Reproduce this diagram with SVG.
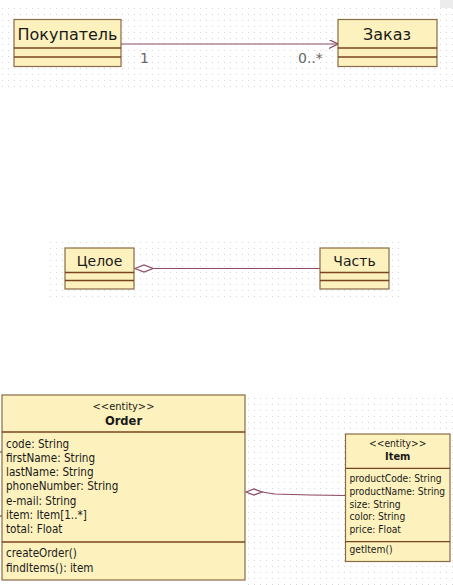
<svg xmlns="http://www.w3.org/2000/svg" width="453" height="585" viewBox="0 0 453 585">
<style>
.box{fill:#fdf2bd;stroke:#8a6a45;stroke-width:1.2}
.div{stroke:#7a4420;stroke-width:1.3}
.t{font-family:"DejaVu Sans Condensed","DejaVu Sans",sans-serif;fill:#1a1a1a}
.big{font-family:"DejaVu Sans",sans-serif;font-size:16px}
.mid{font-family:"DejaVu Sans",sans-serif;font-size:14px}
.mult{font-family:"DejaVu Sans",sans-serif;font-size:14px;fill:#666}
.a1{font-size:11.6px}
.a2{font-size:10.2px}
.conn{fill:none;stroke:#8e4a62;stroke-width:1.2}
</style>
<defs>
<pattern id="dots" x="0" y="0" width="6" height="6" patternUnits="userSpaceOnUse">
<rect x="2" y="2" width="1" height="1" fill="#d6d6d6"/>
</pattern>
<marker id="open" viewBox="0 0 10 10" refX="10" refY="5" markerWidth="9" markerHeight="9" markerUnits="userSpaceOnUse" orient="auto">
<path d="M0,0 L10,5 L0,10" fill="none" stroke="#8e4a62" stroke-width="1.3"/>
</marker>
</defs>
<rect width="453" height="585" fill="#ffffff"/>
<rect x="440" y="0" width="13" height="8" fill="#ececec"/>
<rect x="0" y="4" width="453" height="88" fill="url(#dots)"/>
<rect x="48" y="238" width="355" height="64" fill="url(#dots)"/>
<rect x="246" y="395" width="207" height="190" fill="url(#dots)"/>

<g id="connectors">
<line class="conn" x1="121" y1="44" x2="338" y2="44" marker-end="url(#open)"/>
<text class="mult" x="140" y="63">1</text>
<text class="mult" x="298" y="63">0..*</text>
<path class="conn" d="M135,268.5 L144,265 L153,268.5 L144,272 Z" style="fill:#fff"/>
<line class="conn" x1="153" y1="268.5" x2="320" y2="268.5"/>
<path class="conn" d="M246,492 L254,489 L262,492 L254,495 Z" style="fill:#fff"/>
<polyline class="conn" points="262,492 275,494 310,495 345,495.5"/>
<line x1="0" y1="452" x2="3" y2="452" stroke="#333" stroke-width="1"/>
<line x1="0" y1="516" x2="3" y2="516" stroke="#333" stroke-width="1"/>
</g>

<g id="pokupatel">
<rect class="box" x="14" y="19.5" width="107" height="47"/>
<line class="div" x1="14" y1="48" x2="121" y2="48"/>
<line class="div" x1="14" y1="57" x2="121" y2="57"/>
<text class="t big" x="67.5" y="39.5" text-anchor="middle">Покупатель</text>
</g>

<g id="zakaz">
<rect class="box" x="338" y="19.5" width="99" height="47"/>
<line class="div" x1="338" y1="48" x2="437" y2="48"/>
<line class="div" x1="338" y1="57" x2="437" y2="57"/>
<text class="t big" x="387" y="39.5" text-anchor="middle">Заказ</text>
</g>

<g id="celoe">
<rect class="box" x="65" y="248" width="69" height="41"/>
<line class="div" x1="65" y1="272.5" x2="134" y2="272.5"/>
<line class="div" x1="65" y1="280.5" x2="134" y2="280.5"/>
<text class="t mid" x="99.5" y="266" text-anchor="middle">Целое</text>
</g>

<g id="chast">
<rect class="box" x="320" y="248" width="69" height="41"/>
<line class="div" x1="320" y1="272.5" x2="389" y2="272.5"/>
<line class="div" x1="320" y1="280.5" x2="389" y2="280.5"/>
<text class="t mid" x="354.5" y="266" text-anchor="middle">Часть</text>
</g>

<g id="order">
<rect class="box" x="2" y="395" width="243" height="185"/>
<line class="div" x1="2" y1="432" x2="245" y2="432"/>
<line class="div" x1="2" y1="542" x2="245" y2="542"/>
<text class="t" font-size="11px" x="123.5" y="410" text-anchor="middle">&lt;&lt;entity&gt;&gt;</text>
<text class="t" font-size="12.8px" x="123.5" y="424.5" text-anchor="middle" font-weight="bold">Order</text>
<text class="t a1" x="6" y="447.5">code: String</text>
<text class="t a1" x="6" y="461.8">firstName: String</text>
<text class="t a1" x="6" y="476">lastName: String</text>
<text class="t a1" x="6" y="490.3">phoneNumber: String</text>
<text class="t a1" x="6" y="504.6">e-mail: String</text>
<text class="t a1" x="6" y="518.9">item: Item[1..*]</text>
<text class="t a1" x="6" y="533.2">total: Float</text>
<text class="t a1" x="6" y="557">createOrder()</text>
<text class="t a1" x="6" y="571.5">findItems(): item</text>
</g>

<g id="item">
<rect class="box" x="345.5" y="434" width="104.5" height="127.5"/>
<line class="div" x1="345.5" y1="468.3" x2="450" y2="468.3"/>
<line class="div" x1="345.5" y1="541.7" x2="450" y2="541.7"/>
<text class="t a2" x="397.7" y="446.7" text-anchor="middle">&lt;&lt;entity&gt;&gt;</text>
<text class="t" font-size="11px" x="397.7" y="460" text-anchor="middle" font-weight="bold">Item</text>
<text class="t a2" x="349.5" y="481.7">productCode: String</text>
<text class="t a2" x="349.5" y="494.6">productName: String</text>
<text class="t a2" x="349.5" y="507.5">size: String</text>
<text class="t a2" x="349.5" y="520.4">color: String</text>
<text class="t a2" x="349.5" y="533.3">price: Float</text>
<text class="t a2" x="349.5" y="553.3">getItem()</text>
</g>
</svg>
